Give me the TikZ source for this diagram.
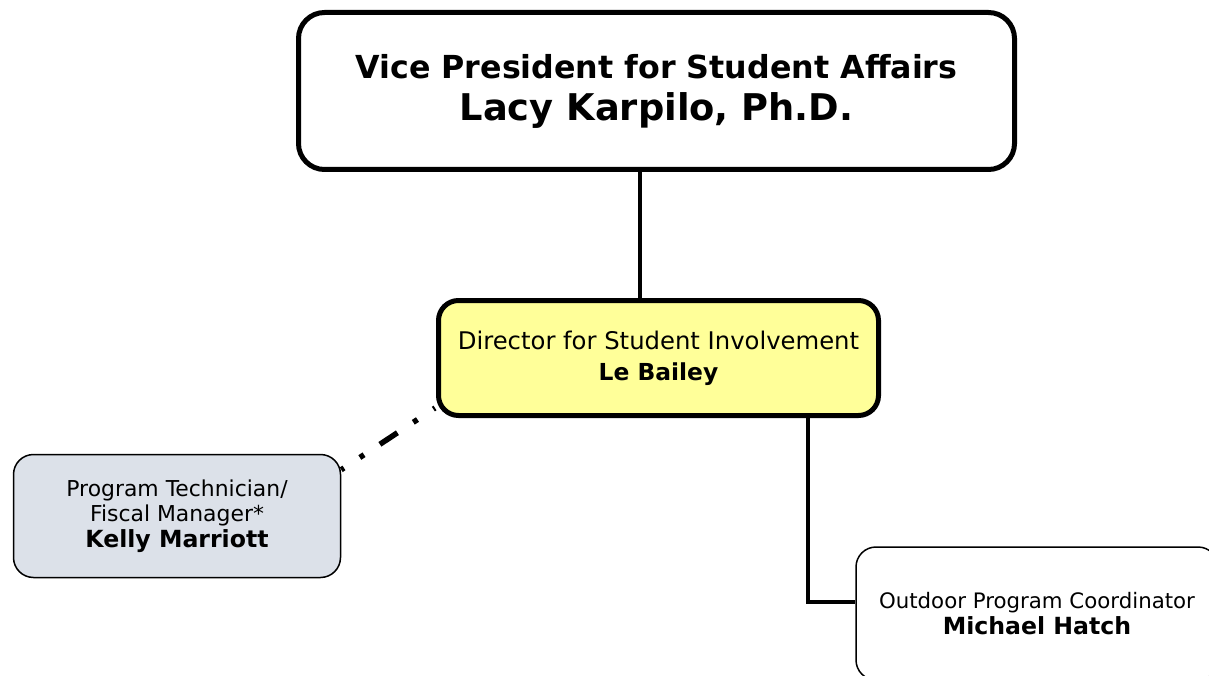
\documentclass[tikz,border=0pt]{standalone}
\usepackage{fontspec}
\setmainfont{DejaVu Sans}
\definecolor{diryellow}{HTML}{FFFF99}
\definecolor{techgray}{HTML}{DCE1E9}
\begin{document}
\begin{tikzpicture}[x=1pt,y=-1pt,
  box/.style={draw=black, rounded corners=20pt, align=center, inner sep=0pt},
  heavy/.style={box, line width=5pt},
  light/.style={box, line width=1.5pt},
  link/.style={line width=4.8pt}]
\useasboundingbox (0,0) rectangle (1209,676);
\clip (0,0) rectangle (1209,676);
\coordinate (c1) at (640,0);
\coordinate (c3) at (808,602);
\node[heavy, fill=white, minimum width=716pt, minimum height=157pt, rounded corners=26pt,
  font=\bfseries\fontsize{31.7}{42}\selectfont] (vp) at (656.5,91)
  {Vice President for Student Affairs\\ \fontsize{36.8}{42}\selectfont Lacy Karpilo, Ph.D.};
\node[heavy, fill=diryellow, minimum width=440pt, minimum height=115pt,
  font=\fontsize{24.3}{31}\selectfont] (dir) at (658.5,358)
  {Director for Student Involvement\\ \bfseries\fontsize{23.4}{31}\selectfont Le Bailey};
\node[light, fill=techgray, minimum width=327pt, minimum height=123pt,
  font=\fontsize{21.9}{25.5}\selectfont] (tech) at (177,516)
  {Program Technician/\\ Fiscal Manager*\\ \bfseries\fontsize{23.6}{25.5}\selectfont Kelly Marriott};
\node[light, fill=white, minimum width=362pt, minimum height=133pt,
  font=\fontsize{21.3}{26}\selectfont] (out) at (1037,613.5)
  {Outdoor Program Coordinator\\ \bfseries\fontsize{23.6}{26}\selectfont Michael Hatch};
\draw[link] (vp.south -| c1) -- (dir.north -| c1);
\draw[link] (dir.south -| c3) |- (c3 -| out.west);
\path (dir.south west) ++(-1,-10) coordinate (d0);
\path (tech.north east) ++(0,16) coordinate (d1);
\draw[link, line width=5.5pt, dash pattern=on 21pt off 19pt on 5pt off 19pt, dash phase=19pt] (d0) -- (d1);
\end{tikzpicture}
\end{document}
